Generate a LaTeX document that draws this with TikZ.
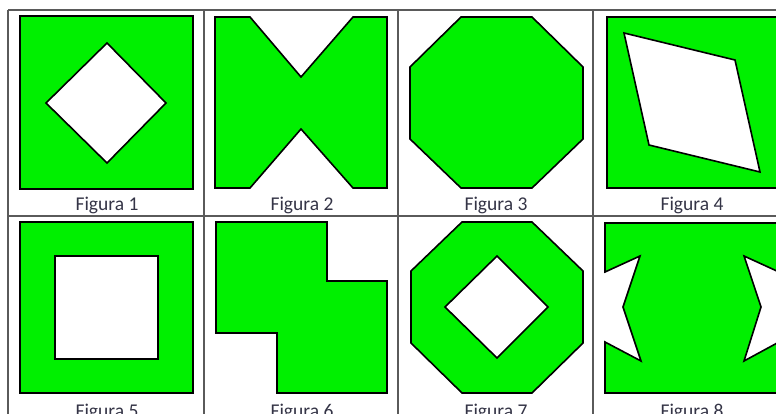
\documentclass[tikz,border=0pt]{standalone}
\usepackage{fontspec}
\setmainfont{Carlito}
\definecolor{fig}{RGB}{0,240,0}
\definecolor{lab}{RGB}{52,52,70}
\definecolor{grid}{RGB}{90,90,90}
\begin{document}
\begin{tikzpicture}[x=1pt,y=-1pt,
  solid shape/.style={fill=fig,draw=black,line width=1.6pt,line join=miter},
  hole/.style={fill=white,draw=black,line width=1.6pt,line join=miter},
  gridline/.style={draw=grid,line width=1.2pt},
  caption/.style={text=lab,font=\fontsize{19.5}{22}\selectfont,anchor=base,inner sep=0pt}]
\useasboundingbox (0,0) rectangle (776,414);
\clip (0,0) rectangle (776,414);
% table grid
\draw[gridline] (8,10) -- (790,10);
\draw[gridline] (8,216) -- (790,216);
\foreach \x in {8,204,398,593} \draw[gridline] (\x,10) -- (\x,420);
% Figura 1
\draw[solid shape] (20,16) rectangle (193,189);
\draw[hole] (107,43) -- (166,103) -- (107,163) -- (46,103) -- cycle;
\node[caption] (c1) at (107,211) {Figura 1};
% Figura 2
\draw[solid shape] (215,17) -- (250,17) -- (301,77) -- (353,17) -- (387,17) -- (387,188) -- (353,188) -- (301,129) -- (250,188) -- (215,188) -- cycle;
\node[caption] (c2) at (302,211) {Figura 2};
% Figura 3
\draw[solid shape] (461,17) -- (532,17) -- (583,67) -- (583,139) -- (532,188) -- (461,188) -- (410,139) -- (410,67) -- cycle;
\node[caption] (c3) at (496,211) {Figura 3};
% Figura 4
\draw[solid shape] (607,17) rectangle (779,188);
\draw[hole] (624,33) -- (735,60) -- (760,172) -- (649,145) -- cycle;
\node[caption] (c4) at (692,211) {Figura 4};
% Figura 5
\draw[solid shape] (20,222) rectangle (193,393);
\draw[hole] (55,256) rectangle (158,359);
\node[caption] (c5) at (107,417) {Figura 5};
% Figura 6
\draw[solid shape] (216,222) -- (327,222) -- (327,281) -- (387,281) -- (387,393) -- (277,393) -- (277,333) -- (216,333) -- cycle;
\node[caption] (c6) at (302,417) {Figura 6};
% Figura 7
\draw[solid shape] (462,222) -- (532,222) -- (583,271) -- (583,343) -- (532,393) -- (462,393) -- (411,343) -- (411,271) -- cycle;
\draw[hole] (497,256) -- (548,307) -- (497,358) -- (445,307) -- cycle;
\node[caption] (c7) at (496,417) {Figura 7};
% Figura 8
\draw[solid shape] (605,223) -- (779,223) -- (779,272) -- (744,256) -- (761,307) -- (744,361) -- (779,342) -- (779,393) -- (605,393) -- (605,342) -- (641,361) -- (623,307) -- (640,256) -- (605,272) -- cycle;
\node[caption] (c8) at (692,417) {Figura 8};
\end{tikzpicture}
\end{document}
